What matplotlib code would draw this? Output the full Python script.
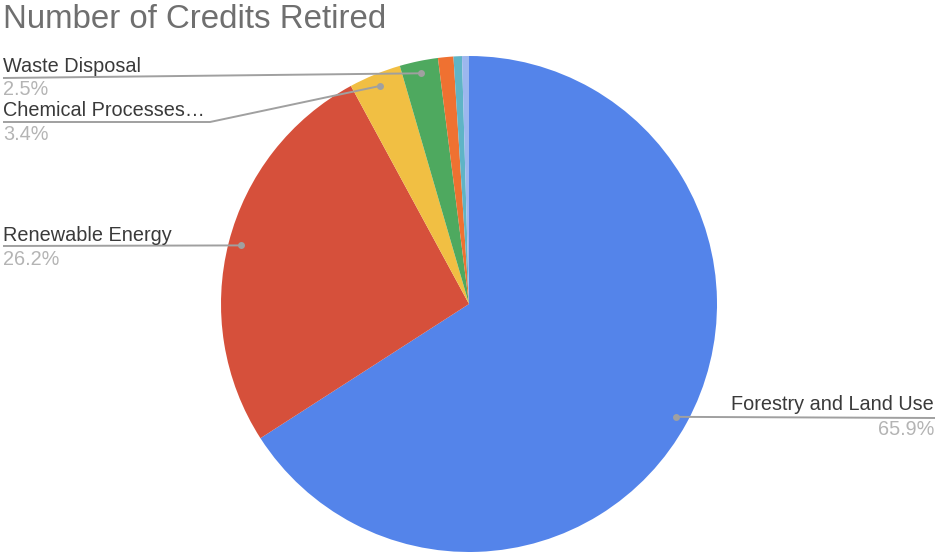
import numpy as np
import matplotlib
matplotlib.use('Agg')
import matplotlib.pyplot as plt

# share of credits retired, clockwise from 12 o'clock
categories = ['Forestry and Land Use', 'Renewable Energy', 'Chemical Processes\u2026',
              'Waste Disposal', '', '', '']
shares = [65.9, 26.2, 3.4, 2.5, 1.0, 0.55, 0.45]
colors = ['#5484ea', '#d6503b', '#f1bf43', '#4ea95f', '#ef7131', '#5fb4c6', '#9cb7ee']

W, H = 937, 552
CX, CY, R = 469, H - 304, 248

plt.rcParams['font.family'] = ['Liberation Sans', 'DejaVu Sans']

fig = plt.figure(figsize=(W / 100, H / 100), dpi=100)
ax = fig.add_axes([0, 0, 1, 1])

wedges, _ = ax.pie(shares, colors=colors, startangle=90, counterclock=False,
                   center=(CX, CY), radius=R, frame=True,
                   wedgeprops={'linewidth': 0})
ax.set_xlim(0, W)
ax.set_ylim(0, H)
ax.axis('off')

fig.text(3 / W, 1 - 28 / H, 'Number of Credits Retired', fontsize=23.8,
         color='#6f6f6f', va='baseline', ha='left')

line_c = '#a0a0a0'
name_c = '#3a3a3a'
pct_c = '#b4b4b4'


def dot_for(i):
    w = wedges[i]
    mid = np.deg2rad((w.theta1 + w.theta2) / 2)
    return CX + 0.95 * R * np.cos(mid), CY + 0.95 * R * np.sin(mid)


# (slice, label x, name baseline, percent baseline, leader path, align)
layout = [
    (3, 3, 72, 95, [(3, 78)], 'left'),
    (2, 3, 116, 140, [(3, 122), (210, 122)], 'left'),
    (1, 3, 241, 265, [(3, 246)], 'left'),
    (0, 934, 410, 435, [(935, 418)], 'right'),
]

for i, lx, ny, py, path, ha in layout:
    dx, dy = dot_for(i)
    pts = [(x, H - y) for x, y in path] + [(dx, dy)]
    xs, ys = zip(*pts)
    ax.plot(xs, ys, color=line_c, linewidth=1.4, solid_capstyle='butt')
    ax.plot(dx, dy, 'o', color=line_c, markersize=5, markeredgewidth=0)
    ax.text(lx, H - ny, categories[i], fontsize=14.3, color=name_c,
            ha=ha, va='baseline')
    ax.text(lx, H - py, f'{shares[i]:.1f}%', fontsize=14.3, color=pct_c,
            ha=ha, va='baseline')

fig.savefig('out.png', dpi=100, facecolor='white')
